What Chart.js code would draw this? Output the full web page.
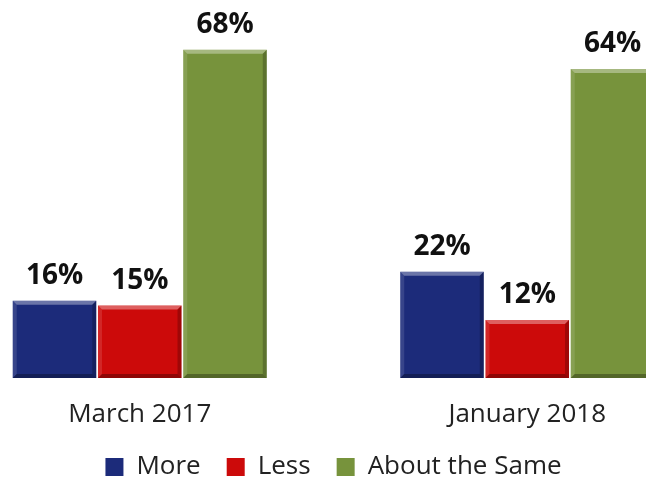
<!DOCTYPE html>
<html>
<head>
    <title>More, Less or About the Same</title>
    <meta charset="UTF-8">
    <style>
        html, body {
            margin: 0;
            padding: 0;
            background: #ffffff;
            overflow: hidden;
        }
        .chart-container {
            position: relative;
            width: 646px;
            height: 477px;
            overflow: hidden;
        }
        #myChart {
            position: absolute;
            left: -54px;
            top: 0;
        }
    </style>
    <script src="https://cdn.jsdelivr.net/npm/chart.js"></script>
    <script>
        const periods = ['March 2017', 'January 2018'];
        const seriesNames = ['More', 'Less', 'About the Same'];
        const moreValues = [16, 22];
        const lessValues = [15, 12];
        const sameValues = [68, 64];
        const seriesColors = ['#1c2b7a', '#cc0a0a', '#77933c'];

        // bevelled edges on each bar, like the office "soft bevel" look
        const bevelPlugin = {
            id: 'bevel',
            afterDatasetsDraw(chart) {
                const ctx = chart.ctx;
                chart.data.datasets.forEach((ds, i) => {
                    chart.getDatasetMeta(i).data.forEach(bar => {
                        const left = bar.x - bar.width / 2;
                        const right = bar.x + bar.width / 2;
                        const top = bar.y;
                        const bottom = bar.base;
                        const b = 4;
                        ctx.save();
                        // top highlight
                        ctx.fillStyle = 'rgba(255,255,255,0.35)';
                        ctx.beginPath();
                        ctx.moveTo(left, top);
                        ctx.lineTo(right, top);
                        ctx.lineTo(right - b, top + b);
                        ctx.lineTo(left + b, top + b);
                        ctx.closePath();
                        ctx.fill();
                        // left side
                        ctx.fillStyle = 'rgba(255,255,255,0.12)';
                        ctx.beginPath();
                        ctx.moveTo(left, top);
                        ctx.lineTo(left + b, top + b);
                        ctx.lineTo(left + b, bottom - b);
                        ctx.lineTo(left, bottom);
                        ctx.closePath();
                        ctx.fill();
                        // right side
                        ctx.fillStyle = 'rgba(0,0,0,0.22)';
                        ctx.beginPath();
                        ctx.moveTo(right, top);
                        ctx.lineTo(right - b, top + b);
                        ctx.lineTo(right - b, bottom - b);
                        ctx.lineTo(right, bottom);
                        ctx.closePath();
                        ctx.fill();
                        // bottom shade
                        ctx.fillStyle = 'rgba(0,0,0,0.3)';
                        ctx.beginPath();
                        ctx.moveTo(left, bottom);
                        ctx.lineTo(right, bottom);
                        ctx.lineTo(right - b, bottom - b);
                        ctx.lineTo(left + b, bottom - b);
                        ctx.closePath();
                        ctx.fill();
                        ctx.restore();
                    });
                });
            }
        };

        // percentage above each bar
        const valueLabelPlugin = {
            id: 'valueLabels',
            afterDatasetsDraw(chart) {
                const ctx = chart.ctx;
                ctx.save();
                ctx.font = 'bold 28px "Open Sans", sans-serif';
                ctx.fillStyle = '#111111';
                ctx.textAlign = 'center';
                ctx.textBaseline = 'alphabetic';
                chart.data.datasets.forEach((ds, i) => {
                    chart.getDatasetMeta(i).data.forEach((bar, j) => {
                        ctx.fillText(ds.data[j] + '%', bar.x, bar.y - 17);
                    });
                });
                ctx.restore();
            }
        };

        function makeDataset(label, values, color) {
            return {
                label: label,
                data: values,
                backgroundColor: color,
                borderWidth: 0,
                categoryPercentage: 0.66,
                barPercentage: 0.98
            };
        }

        function renderChart() {
            const ctx = document.getElementById('myChart').getContext('2d');
            new Chart(ctx, {
                type: 'bar',
                data: {
                    labels: periods,
                    datasets: [
                        makeDataset(seriesNames[0], moreValues, seriesColors[0]),
                        makeDataset(seriesNames[1], lessValues, seriesColors[1]),
                        makeDataset(seriesNames[2], sameValues, seriesColors[2])
                    ]
                },
                options: {
                    responsive: false,
                    animation: false,
                    layout: {
                        padding: { top: 16, left: 0, right: 0, bottom: -13 }
                    },
                    plugins: {
                        legend: {
                            position: 'bottom',
                            labels: {
                                boxWidth: 18,
                                boxHeight: 18,
                                padding: 26,
                                color: '#222222',
                                font: { size: 26, family: '"Open Sans", sans-serif' }
                            }
                        },
                        tooltip: { enabled: false }
                    },
                    scales: {
                        x: {
                            grid: { display: false },
                            border: { display: false },
                            afterFit(scale) {
                                scale.height = 50;
                            },
                            ticks: {
                                color: '#222222',
                                padding: 13,
                                font: { size: 26, family: '"Open Sans", sans-serif' }
                            }
                        },
                        y: {
                            display: false,
                            min: 0,
                            max: 75
                        }
                    }
                },
                plugins: [bevelPlugin, valueLabelPlugin]
            });
        }

        window.onload = renderChart;
    </script>
</head>
<body>
<div class="chart-container">
    <canvas id="myChart" width="775" height="477"></canvas>
</div>
</body>
</html>
